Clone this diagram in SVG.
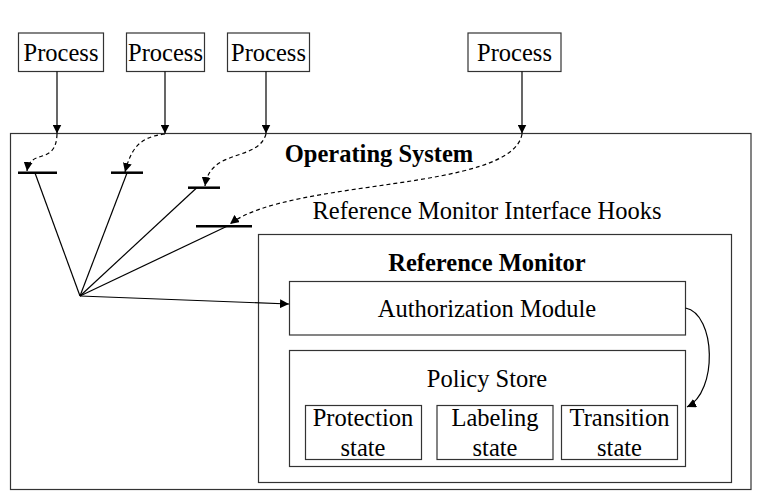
<svg xmlns="http://www.w3.org/2000/svg" width="757" height="497" viewBox="0 0 757 497">
<defs>
<marker id="ah" viewBox="0 0 10 10" refX="10" refY="5" markerWidth="9" markerHeight="9" markerUnits="userSpaceOnUse" orient="auto">
<path d="M0,0 L10,5 L0,10 z" fill="#000"/>
</marker>
</defs>
<style>
.box{fill:#fff;stroke:#333;stroke-width:1.2}
text{font-family:'Liberation Serif','Times New Roman',Times,serif;font-size:24.5px;fill:#000;text-anchor:middle}
.b{font-weight:bold}
.hook{stroke:#000;stroke-width:2.5}
.ln{stroke:#000;stroke-width:1.2;fill:none}
.dash{stroke:#000;stroke-width:1.2;fill:none;stroke-dasharray:4,3}
</style>
<rect width="757" height="497" fill="#fff"/>
<g id="os">
<rect class="box" x="10.5" y="133.5" width="740.5" height="356"/>
<text class="b" x="379" y="162">Operating System</text>
<text x="487" y="219">Reference Monitor Interface Hooks</text>
</g>
<g id="refmon">
<rect class="box" x="258.5" y="234.5" width="473" height="248"/>
<text class="b" x="487" y="271">Reference Monitor</text>
</g>
<g id="auth">
<rect class="box" x="289.5" y="281.5" width="396" height="53.5"/>
<text x="487" y="317">Authorization Module</text>
</g>
<g id="policy">
<rect class="box" x="289.5" y="350.5" width="396" height="116"/>
<text x="487" y="387">Policy Store</text>
</g>
<g id="protection">
<rect class="box" x="305.5" y="405.5" width="116" height="54"/>
<text x="363" y="426">Protection</text>
<text x="363" y="456">state</text>
</g>
<g id="labeling">
<rect class="box" x="437" y="405.5" width="116" height="54"/>
<text x="495" y="426">Labeling</text>
<text x="495" y="456">state</text>
</g>
<g id="transition">
<rect class="box" x="561.5" y="405.5" width="116" height="54"/>
<text x="619.5" y="426">Transition</text>
<text x="619.5" y="456">state</text>
</g>
<g id="p1"><rect class="box" x="18.5" y="33" width="85" height="38.5"/><text x="61" y="61">Process</text></g>
<g id="p2"><rect class="box" x="126.5" y="33" width="78" height="38.5"/><text x="165.5" y="61">Process</text></g>
<g id="p3"><rect class="box" x="227.5" y="33" width="82" height="38.5"/><text x="268.5" y="61">Process</text></g>
<g id="p4"><rect class="box" x="468" y="33" width="93" height="38.5"/><text x="514.5" y="61">Process</text></g>
<g id="hooks">
<line class="hook" x1="18" y1="172.7" x2="57" y2="172.7"/>
<line class="hook" x1="111" y1="172.7" x2="143" y2="172.7"/>
<line class="hook" x1="188" y1="187.7" x2="220" y2="187.7"/>
<line class="hook" x1="196" y1="226.3" x2="252" y2="226.3"/>
</g>
<g id="connectors">
<line class="ln" x1="57" y1="71.5" x2="57" y2="133.5" marker-end="url(#ah)"/>
<line class="ln" x1="165" y1="71.5" x2="165" y2="133.5" marker-end="url(#ah)"/>
<line class="ln" x1="266" y1="71.5" x2="266" y2="133.5" marker-end="url(#ah)"/>
<line class="ln" x1="522" y1="71.5" x2="522" y2="133.5" marker-end="url(#ah)"/>
<path class="dash" d="M57,134 C56,166 30,148 27,171" marker-end="url(#ah)"/>
<path class="dash" d="M165,134 C138,137 131,150 125,172" marker-end="url(#ah)"/>
<path class="dash" d="M266,134 C258,162 210,148 205,186" marker-end="url(#ah)"/>
<path class="dash" d="M522,134 C512,192 290,178 230,224" marker-end="url(#ah)"/>
<line class="ln" x1="80" y1="296" x2="35" y2="173"/>
<line class="ln" x1="80" y1="296" x2="127" y2="173"/>
<line class="ln" x1="80" y1="296" x2="196.5" y2="188"/>
<line class="ln" x1="80" y1="296" x2="226.5" y2="226.5"/>
<line class="ln" x1="80" y1="296" x2="289" y2="304" marker-end="url(#ah)"/>
<path class="ln" d="M685.5,308 C716,314 718,392 687,407" marker-end="url(#ah)"/>
</g>
</svg>
